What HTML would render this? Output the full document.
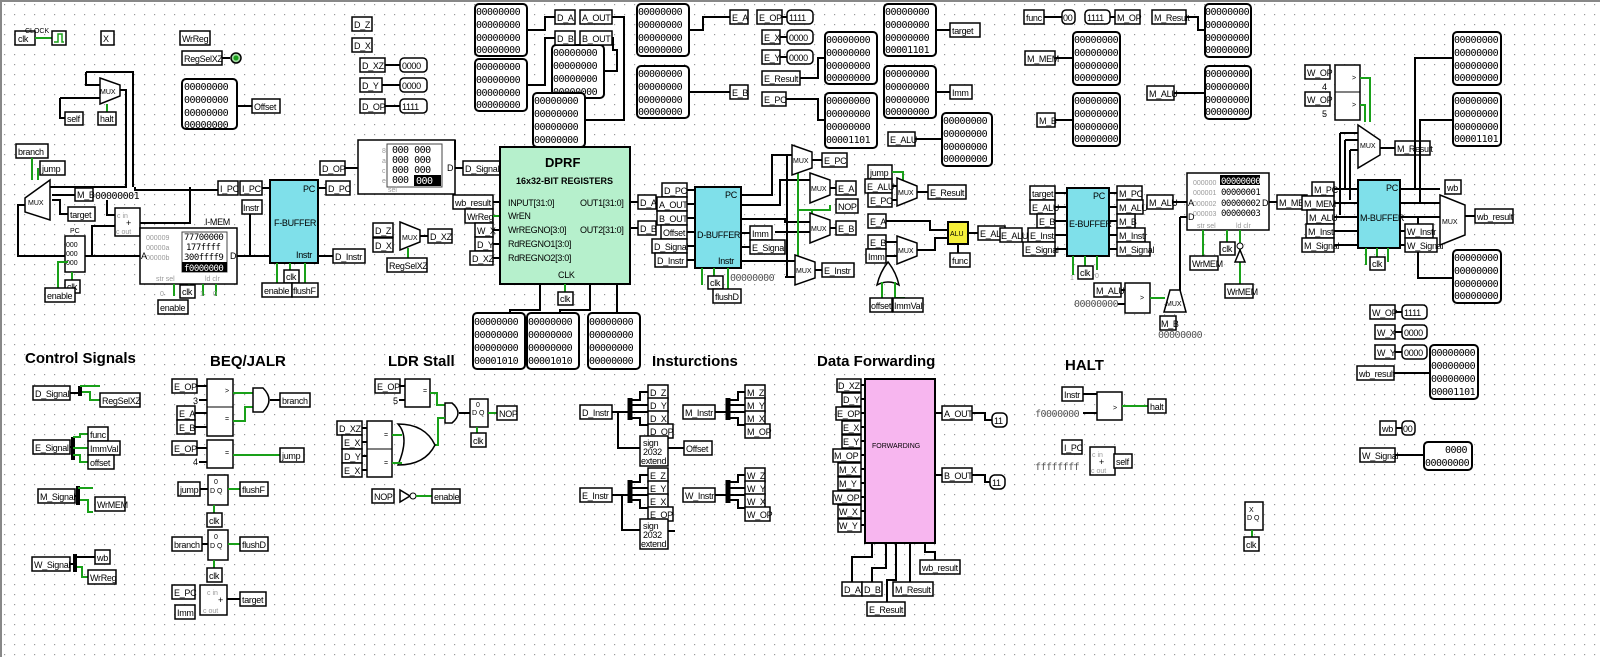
<!DOCTYPE html>
<html><head><meta charset="utf-8"><style>
html,body{margin:0;padding:0;background:#fff;}
svg{display:block;font-family:"Liberation Sans",sans-serif;}
.t{font-size:9px;letter-spacing:-0.3px;fill:#000;}
.s{font-size:7px;fill:#000;}
.g{font-size:7px;fill:#999;}
.h{font-size:15px;font-weight:bold;fill:#000;}
.p{font-size:10px;fill:#000;font-family:"DejaVu Sans Mono","Liberation Mono",monospace;letter-spacing:-0.5px;}
rect.l{fill:#fff;stroke:#000;stroke-width:1.5;}
rect.pr{fill:#fff;stroke:#000;stroke-width:2;}
.w{fill:none;stroke:#000;stroke-width:2;}
.gw{fill:none;stroke:#19a019;stroke-width:2;}
.box{fill:#fff;stroke:#000;stroke-width:1.5;}
.cy{fill:#7fe0ea;stroke:#000;stroke-width:2;}
</style></head><body>
<svg width="1600" height="657" viewBox="0 0 1600 657" xmlns="http://www.w3.org/2000/svg">
<defs><pattern id="dots" width="10" height="10" patternUnits="userSpaceOnUse"><rect x="4" y="4" width="1.2" height="1.2" fill="#9a9a9a"/></pattern></defs>
<rect width="1600" height="657" fill="#fff"/>
<rect width="1600" height="657" fill="url(#dots)"/>
<line x1="1" y1="0" x2="1" y2="657" stroke="#888" stroke-width="2"/>
<line x1="0" y1="1" x2="1600" y2="1" stroke="#888" stroke-width="2"/>

<!-- ===== top-left ===== -->
<rect class="l" x="15" y="31" width="20" height="14"/><text class="t" x="18" y="42">clk</text>
<text class="s" x="25" y="33">CLOCK</text>
<polyline class="gw" points="35,38 52,38"/>
<rect class="box" x="52" y="31" width="14" height="14"/><polyline fill="none" stroke="#19a019" stroke-width="1.5" points="54,42 58,42 58,34 62,34 62,42 64,42"/>
<rect class="l" x="101" y="31" width="13" height="14"/><text class="t" x="103" y="42">X</text>
<rect class="l" x="180" y="31" width="30" height="14"/><text class="t" x="182" y="42">WrReg</text>
<rect class="l" x="182" y="51" width="40" height="14"/><text class="t" x="184" y="62">RegSelXZ</text>
<polyline class="w" points="222,58 230,58"/><circle cx="236" cy="58" r="5" fill="#9fd89f" stroke="#000" stroke-width="1.5"/><circle cx="236" cy="58" r="2.5" fill="#19a019"/>
<rect class="pr" x="182" y="79" width="55" height="50" rx="4"/>
<text class="p" x="184" y="90">00000000</text><text class="p" x="184" y="103">00000000</text><text class="p" x="184" y="116">00000000</text><text class="p" x="184" y="128">00000000</text>
<polyline class="w" points="237,106 252,106"/><rect class="l" x="252" y="99" width="28" height="14"/><text class="t" x="254" y="110">Offset</text>

<rect class="l" x="352" y="17" width="20" height="14"/><text class="t" x="354" y="28">D_Z</text>
<rect class="l" x="352" y="38" width="20" height="14"/><text class="t" x="354" y="49">D_X</text>
<rect class="l" x="360" y="58" width="25" height="14"/><text class="t" x="362" y="69">D_XZ</text><polyline class="w" points="385,65 400,65"/><rect class="l" x="400" y="58" width="27" height="14" rx="4"/><text class="t" x="402" y="69">0000</text>
<rect class="l" x="360" y="78" width="22" height="14"/><text class="t" x="362" y="89">D_Y</text><polyline class="w" points="382,85 400,85"/><rect class="l" x="400" y="78" width="27" height="14" rx="4"/><text class="t" x="402" y="89">0000</text>
<rect class="l" x="360" y="99" width="25" height="14"/><text class="t" x="362" y="110">D_OP</text><polyline class="w" points="385,106 400,106"/><rect class="l" x="400" y="99" width="27" height="14" rx="4"/><text class="t" x="402" y="110">1111</text>

<!-- PC mux top -->
<polyline class="w" points="86,72 133,72 133,187"/>
<polyline class="w" points="86,72 86,85 100,85"/>
<polygon class="box" points="100,78 120,85 120,96 100,104"/><text class="s" x="100" y="94">MUX</text>
<polyline class="w" points="120,90 126,90 126,187 50,187"/>
<polyline class="w" points="60,98 100,98"/><polyline class="w" points="60,98 60,118 65,118"/>
<rect class="l" x="65" y="112" width="18" height="13"/><text class="t" x="67" y="122">self</text>
<polyline class="gw" points="107,104 107,112"/>
<rect class="l" x="98" y="112" width="18" height="13"/><text class="t" x="100" y="122">halt</text>

<rect class="l" x="16" y="144" width="32" height="14"/><text class="t" x="18" y="155">branch</text>
<rect class="l" x="40" y="161" width="25" height="14"/><text class="t" x="42" y="172">jump</text>
<polyline class="gw" points="32,158 32,180"/><polyline class="gw" points="38,168 38,180"/>
<polygon class="box" points="25,198 50,180 50,220 25,212"/><text class="s" x="28" y="205">MUX</text>
<polyline class="w" points="50,187 126,187"/>
<polyline class="w" points="52,195 75,195"/><rect class="l" x="75" y="188" width="18" height="13"/><text class="t" x="77" y="198">M_B</text>
<polyline class="w" points="52,200 60,200 60,214 68,214"/><rect class="l" x="68" y="207" width="27" height="14"/><text class="t" x="70" y="218">target</text>
<text class="p" x="95" y="199">00000001</text>
<polyline class="w" points="25,205 18,205 18,256 65,256"/>
<polyline class="w" points="135,187 135,190 235,190 235,187 238,187"/>
<polyline class="w" points="190,187 190,223 140,223"/>
<polyline class="w" points="107,200 107,215 115,215"/>
<polyline class="w" points="85,256 140,256"/><polyline class="w" points="92,256 92,226 115,226"/>
<rect class="box" x="115" y="208" width="25" height="28"/><text class="g" x="117" y="218">c in</text><text class="t" x="126" y="226">+</text><text class="g" x="116" y="234">c out</text>
<text class="s" x="70" y="233">PC</text>
<rect class="box" x="65" y="236" width="20" height="36"/><text class="s" x="66" y="247">000</text><text class="s" x="66" y="256">000</text><text class="s" x="66" y="265">000</text>
<polyline class="gw" points="72,272 72,281"/><rect class="l" x="65" y="280" width="15" height="13"/><text class="t" x="67" y="290">clk</text>
<polyline class="gw" points="68,262 58,262 58,288"/><rect class="l" x="45" y="288" width="30" height="14"/><text class="t" x="47" y="299">enable</text>

<text class="t" x="205" y="225">I-MEM</text>
<rect class="box" x="140" y="228" width="97" height="56"/>
<rect x="182" y="232" width="45" height="40" fill="#fff" stroke="#444"/>
<text class="g" x="146" y="240">000009</text><text class="p" x="184" y="240" style="font-size:9px">77700000</text>
<text class="g" x="146" y="250">00000a</text><text class="p" x="186" y="250" style="font-size:9px">177ffff</text>
<text class="g" x="146" y="260">00000b</text><text class="p" x="184" y="260" style="font-size:9px">300ffff9</text>
<rect x="182" y="262" width="45" height="10" fill="#000"/><text class="p" x="184" y="271" style="font-size:9px;fill:#fff">f0000000</text>
<text class="g" x="156" y="281">str sel</text><text class="g" x="205" y="281">ld clr</text>
<text class="t" x="141" y="259">A</text><text class="t" x="230" y="259">D</text>
<polyline class="gw" points="174,284 174,296"/><polyline class="gw" points="189,284 189,296"/><polyline class="gw" points="203,284 203,296"/><polyline class="gw" points="216,284 216,296"/>
<text class="g" x="160" y="296">0</text><text class="g" x="200" y="296">1</text><text class="g" x="213" y="296">0</text>
<rect class="l" x="180" y="285" width="15" height="13"/><text class="t" x="182" y="295">clk</text>
<rect class="l" x="158" y="300" width="30" height="14"/><text class="t" x="160" y="311">enable</text>
<polyline class="w" points="237,256 270,256"/>
<polyline class="w" points="250,256 250,214"/>
<rect class="l" x="218" y="181" width="20" height="14"/><text class="t" x="220" y="192">I_PC</text>
<rect class="l" x="240" y="181" width="22" height="14"/><text class="t" x="242" y="192">I_PC</text>
<polyline class="w" points="262,188 270,188"/>
<rect class="l" x="242" y="200" width="20" height="14"/><text class="t" x="243" y="211">Instr</text>
<rect class="cy" x="270" y="180" width="48" height="83"/>
<text class="t" x="303" y="192">PC</text><text class="t" x="274" y="226">F-BUFFER</text><text class="t" x="296" y="258">Instr</text>
<polyline class="w" points="318,188 326,188"/><rect class="l" x="326" y="181" width="24" height="14"/><text class="t" x="328" y="192">D_PC</text>
<polyline class="w" points="318,256 333,256"/><rect class="l" x="333" y="249" width="32" height="14"/><text class="t" x="335" y="260">D_Instr</text>
<polyline class="gw" points="277,263 277,283"/><polyline class="gw" points="290,263 290,270"/><polyline class="gw" points="305,263 305,283"/>
<rect class="l" x="284" y="270" width="15" height="13"/><text class="t" x="286" y="280">clk</text>
<rect class="l" x="262" y="283" width="30" height="14"/><text class="t" x="264" y="294">enable</text>
<rect class="l" x="292" y="283" width="26" height="14"/><text class="t" x="293" y="294">flushF</text>

<!-- decoder ROM -->
<rect class="l" x="320" y="161" width="25" height="14"/><text class="t" x="322" y="172">D_OP</text>
<polyline class="w" points="345,168 360,168"/><text class="t" x="361" y="171">A</text>
<rect class="box" x="358" y="140" width="97" height="54"/>
<rect x="387" y="144" width="55" height="43" fill="#fff" stroke="#444"/>
<text class="g" x="382" y="153">8</text><text class="p" x="392" y="153">000  000</text>
<text class="g" x="382" y="163">a</text><text class="p" x="392" y="163">000  000</text>
<text class="g" x="382" y="173">c</text><text class="p" x="392" y="173">000  000</text>
<text class="g" x="382" y="183">e</text><text class="p" x="392" y="183">000</text>
<rect x="414" y="175" width="27" height="11" fill="#000"/><text class="p" x="416" y="184" style="fill:#fff">000</text>
<text class="g" x="388" y="192">sel</text>
<text class="t" x="447" y="171">D</text><polyline class="w" points="455,168 463,168"/>
<rect class="l" x="463" y="161" width="37" height="14"/><text class="t" x="465" y="172">D_Signal</text>
<polyline class="w" points="455,140 455,160"/>

<rect class="l" x="453" y="195" width="40" height="14"/><text class="t" x="455" y="206">wb_result</text>
<rect class="l" x="465" y="209" width="28" height="14"/><text class="t" x="467" y="220">WrReg</text>
<rect class="l" x="475" y="223" width="18" height="14"/><text class="t" x="477" y="234">W_X</text>
<rect class="l" x="475" y="237" width="18" height="14"/><text class="t" x="477" y="248">D_Y</text>
<rect class="l" x="470" y="251" width="23" height="14"/><text class="t" x="472" y="262">D_XZ</text>
<polyline class="w" points="493,202 500,202"/><polyline class="gw" points="493,216 500,216"/><polyline class="w" points="493,230 500,230"/><polyline class="w" points="493,244 500,244"/><polyline class="w" points="493,258 500,258"/>

<rect class="l" x="373" y="223" width="20" height="14"/><text class="t" x="375" y="234">D_Z</text>
<rect class="l" x="373" y="238" width="20" height="14"/><text class="t" x="375" y="249">D_X</text>
<polygon class="box" points="400,222 420,230 420,242 400,250"/><text class="s" x="402" y="240">MUX</text>
<polyline class="w" points="420,236 428,236"/><rect class="l" x="428" y="229" width="24" height="14"/><text class="t" x="430" y="240">D_XZ</text>
<polyline class="gw" points="408,248 408,258"/><rect class="l" x="387" y="258" width="40" height="14"/><text class="t" x="389" y="269">RegSelXZ</text>

<!-- DPRF -->
<rect x="500" y="147" width="130" height="137" fill="#b6f0cc" stroke="#000" stroke-width="2"/>
<text x="545" y="167" style="font-size:13px;font-weight:bold">DPRF</text>
<text x="516" y="184" style="font-size:9px;font-weight:bold">16x32-BIT REGISTERS</text>
<text class="t" x="508" y="206">INPUT[31:0]</text><text class="t" x="508" y="219">WrEN</text><text class="t" x="508" y="233">WrREGNO[3:0]</text><text class="t" x="508" y="247">RdREGNO1[3:0]</text><text class="t" x="508" y="261">RdREGNO2[3:0]</text>
<text class="t" x="580" y="206">OUT1[31:0]</text><text class="t" x="580" y="233">OUT2[31:0]</text><text class="t" x="558" y="278">CLK</text>
<polyline class="gw" points="565,284 565,292"/><rect class="l" x="558" y="292" width="15" height="13"/><text class="t" x="560" y="302">clk</text>
<polyline class="w" points="630,202 638,202"/><rect class="l" x="638" y="195" width="18" height="14"/><text class="t" x="640" y="206">D_A</text>
<polyline class="w" points="630,228 638,228"/><rect class="l" x="638" y="221" width="18" height="14"/><text class="t" x="640" y="232">D_B</text>
<polyline class="w" points="540,284 540,310 510,310 510,314"/><polyline class="w" points="590,284 590,310 560,310 560,314"/><polyline class="w" points="617,284 617,314"/>
<rect class="pr" x="473" y="313" width="52" height="56" rx="4"/><text class="p" x="474" y="325">00000000</text><text class="p" x="474" y="338">00000000</text><text class="p" x="474" y="351">00000000</text><text class="p" x="474" y="364">00001010</text>
<rect class="pr" x="527" y="313" width="52" height="56" rx="4"/><text class="p" x="528" y="325">00000000</text><text class="p" x="528" y="338">00000000</text><text class="p" x="528" y="351">00000000</text><text class="p" x="528" y="364">00001010</text>
<rect class="pr" x="588" y="313" width="52" height="56" rx="4"/><text class="p" x="589" y="325">00000000</text><text class="p" x="589" y="338">00000000</text><text class="p" x="589" y="351">00000000</text><text class="p" x="589" y="364">00000000</text>

<!-- probes above DPRF -->
<rect class="pr" x="475" y="4" width="52" height="52" rx="4"/><text class="p" x="476" y="15">00000000</text><text class="p" x="476" y="28">00000000</text><text class="p" x="476" y="41">00000000</text><text class="p" x="476" y="53">00000000</text>
<rect class="pr" x="475" y="59" width="52" height="52" rx="4"/><text class="p" x="476" y="70">00000000</text><text class="p" x="476" y="83">00000000</text><text class="p" x="476" y="96">00000000</text><text class="p" x="476" y="108">00000000</text>
<rect class="pr" x="552" y="45" width="52" height="53" rx="4"/><text class="p" x="553" y="56">00000000</text><text class="p" x="553" y="69">00000000</text><text class="p" x="553" y="82">00000000</text><text class="p" x="553" y="95">00000000</text>
<rect class="pr" x="533" y="93" width="52" height="54" rx="4"/><text class="p" x="534" y="104">00000000</text><text class="p" x="534" y="117">00000000</text><text class="p" x="534" y="130">00000000</text><text class="p" x="534" y="143">00000000</text>
<polyline class="w" points="527,30 545,30 545,17 555,17"/><polyline class="w" points="527,85 545,85 545,38 555,38"/>
<rect class="l" x="555" y="10" width="20" height="14"/><text class="t" x="557" y="21">D_A</text>
<rect class="l" x="580" y="10" width="32" height="14"/><text class="t" x="582" y="21">A_OUT</text>
<rect class="l" x="555" y="31" width="20" height="14"/><text class="t" x="557" y="42">D_B</text>
<rect class="l" x="580" y="31" width="32" height="14"/><text class="t" x="582" y="42">B_OUT</text>
<polyline class="w" points="612,17 624,17 624,120 585,120"/><polyline class="w" points="612,38 613,38 613,50 617,50 617,71 604,71"/>

<!-- E probes -->
<rect class="pr" x="637" y="4" width="52" height="52" rx="4"/><text class="p" x="638" y="15">00000000</text><text class="p" x="638" y="28">00000000</text><text class="p" x="638" y="41">00000000</text><text class="p" x="638" y="53">00000000</text>
<rect class="pr" x="637" y="66" width="52" height="52" rx="4"/><text class="p" x="638" y="77">00000000</text><text class="p" x="638" y="90">00000000</text><text class="p" x="638" y="103">00000000</text><text class="p" x="638" y="115">00000000</text>
<polyline class="w" points="689,30 703,30 703,17 730,17"/><rect class="l" x="730" y="10" width="18" height="14"/><text class="t" x="732" y="21">E_A</text>
<polyline class="w" points="689,92 730,92"/><rect class="l" x="730" y="85" width="18" height="14"/><text class="t" x="732" y="96">E_B</text>
<rect class="l" x="757" y="10" width="25" height="14"/><text class="t" x="759" y="21">E_OP</text><polyline class="w" points="782,17 787,17"/><rect class="l" x="787" y="10" width="26" height="14" rx="4"/><text class="t" x="789" y="21">1111</text>
<rect class="l" x="762" y="30" width="18" height="14"/><text class="t" x="764" y="41">E_X</text><polyline class="w" points="780,37 787,37"/><rect class="l" x="787" y="30" width="26" height="14" rx="4"/><text class="t" x="789" y="41">0000</text>
<rect class="l" x="762" y="50" width="18" height="14"/><text class="t" x="764" y="61">E_Y</text><polyline class="w" points="780,57 787,57"/><rect class="l" x="787" y="50" width="26" height="14" rx="4"/><text class="t" x="789" y="61">0000</text>
<rect class="l" x="762" y="71" width="38" height="14"/><text class="t" x="764" y="82">E_Result</text><polyline class="w" points="800,78 818,78 818,58 825,58"/>
<rect class="l" x="762" y="92" width="24" height="14"/><text class="t" x="764" y="103">E_PC</text><polyline class="w" points="786,99 818,99 818,120 825,120"/>
<rect class="pr" x="825" y="32" width="52" height="52" rx="4"/><text class="p" x="826" y="43">00000000</text><text class="p" x="826" y="56">00000000</text><text class="p" x="826" y="69">00000000</text><text class="p" x="826" y="81">00000000</text>
<rect class="pr" x="825" y="93" width="52" height="55" rx="4"/><text class="p" x="826" y="104">00000000</text><text class="p" x="826" y="117">00000000</text><text class="p" x="826" y="130">00000000</text><text class="p" x="826" y="143">00001101</text>
<rect class="pr" x="884" y="4" width="52" height="52" rx="4"/><text class="p" x="885" y="15">00000000</text><text class="p" x="885" y="28">00000000</text><text class="p" x="885" y="41">00000000</text><text class="p" x="885" y="53">00001101</text>
<polyline class="w" points="936,30 950,30"/><rect class="l" x="950" y="23" width="30" height="14"/><text class="t" x="952" y="34">target</text>
<rect class="pr" x="884" y="66" width="52" height="52" rx="4"/><text class="p" x="885" y="77">00000000</text><text class="p" x="885" y="90">00000000</text><text class="p" x="885" y="103">00000000</text><text class="p" x="885" y="115">00000000</text>
<polyline class="w" points="936,92 950,92"/><rect class="l" x="950" y="85" width="22" height="14"/><text class="t" x="952" y="96">Imm</text>
<rect class="pr" x="942" y="113" width="50" height="53" rx="4"/><text class="p" x="943" y="124">00000000</text><text class="p" x="943" y="137">00000000</text><text class="p" x="943" y="150">00000000</text><text class="p" x="943" y="162">00000000</text>
<rect class="l" x="888" y="132" width="27" height="14"/><text class="t" x="890" y="143">E_ALU</text><polyline class="w" points="915,139 942,139"/>

<!-- D-BUFFER -->
<rect class="l" x="662" y="183" width="25" height="14"/><text class="t" x="664" y="194">D_PC</text>
<rect class="l" x="657" y="197" width="30" height="14"/><text class="t" x="659" y="208">A_OUT</text>
<rect class="l" x="657" y="211" width="30" height="14"/><text class="t" x="659" y="222">B_OUT</text>
<rect class="l" x="661" y="225" width="26" height="14"/><text class="t" x="663" y="236">Offset</text>
<rect class="l" x="652" y="239" width="35" height="14"/><text class="t" x="654" y="250">D_Signal</text>
<rect class="l" x="655" y="253" width="32" height="14"/><text class="t" x="657" y="264">D_Instr</text>
<polyline class="w" points="687,190 695,190"/><polyline class="w" points="687,204 695,204"/><polyline class="w" points="687,218 695,218"/><polyline class="w" points="687,232 695,232"/><polyline class="w" points="687,246 695,246"/><polyline class="w" points="687,260 695,260"/>
<rect class="cy" x="695" y="187" width="46" height="81"/>
<text class="t" x="725" y="198">PC</text><text class="t" x="697" y="238">D-BUFFER</text><text class="t" x="718" y="264">Instr</text>
<polyline class="gw" points="702,268 702,285"/><polyline class="gw" points="714,268 714,276"/><polyline class="gw" points="728,268 728,289"/>
<rect class="l" x="708" y="276" width="15" height="13"/><text class="t" x="710" y="286">clk</text>
<rect class="l" x="713" y="289" width="28" height="14"/><text class="t" x="715" y="300">flushD</text>
<polyline class="w" points="741,233 750,233"/><rect class="l" x="750" y="226" width="22" height="14"/><text class="t" x="752" y="237">Imm</text>
<polyline class="w" points="741,247 750,247"/><rect class="l" x="750" y="240" width="35" height="14"/><text class="t" x="752" y="251">E_Signal</text>
<polyline class="w" points="741,195 772,195 772,155 792,155"/>
<polyline class="w" points="741,205 780,205 780,180 810,180"/>
<polyline class="w" points="741,219 785,219 785,222 810,222"/>
<polyline class="w" points="741,261 795,261"/>
<polyline class="w" points="785,277 800,277 800,275"/>
<text class="p" x="730" y="281" style="fill:#555">00000000</text>
<polyline class="w" points="787,155 787,277"/><polyline class="w" points="775,232 810,232"/>
<polyline class="gw" points="798,170 798,260"/><polyline class="gw" points="812,210 830,210 830,205"/><polyline class="gw" points="798,210 812,210 812,230"/>
<polygon class="box" points="792,145 812,152 812,168 792,175"/><text class="s" x="793" y="163">MUX</text>
<polygon class="box" points="810,173 830,180 830,195 810,203"/><text class="s" x="811" y="191">MUX</text>
<polygon class="box" points="810,213 830,220 830,235 810,243"/><text class="s" x="811" y="231">MUX</text>
<polygon class="box" points="795,255 815,262 815,278 795,285"/><text class="s" x="796" y="273">MUX</text>
<polyline class="w" points="812,160 822,160"/><rect class="l" x="822" y="153" width="25" height="14"/><text class="t" x="824" y="164">E_PC</text>
<polyline class="w" points="830,188 836,188"/><rect class="l" x="836" y="181" width="20" height="14"/><text class="t" x="838" y="192">E_A</text>
<rect class="l" x="836" y="199" width="22" height="14"/><text class="t" x="838" y="210">NOP</text>
<polyline class="w" points="830,228 836,228"/><rect class="l" x="836" y="221" width="20" height="14"/><text class="t" x="838" y="232">E_B</text>
<polyline class="w" points="815,270 822,270"/><rect class="l" x="822" y="263" width="32" height="14"/><text class="t" x="824" y="274">E_Instr</text>

<!-- ALU area -->
<rect class="l" x="868" y="165" width="24" height="14"/><text class="t" x="870" y="176">jump</text>
<rect class="l" x="865" y="179" width="27" height="14"/><text class="t" x="867" y="190">E_ALU</text>
<rect class="l" x="868" y="193" width="24" height="14"/><text class="t" x="870" y="204">E_PC</text>
<polyline class="gw" points="892,172 903,172 903,180"/>
<polyline class="w" points="892,186 897,186"/><polyline class="w" points="892,200 897,200"/>
<polygon class="box" points="897,178 917,186 917,198 897,206"/><text class="s" x="898" y="195">MUX</text>
<polyline class="w" points="917,192 928,192"/><rect class="l" x="928" y="185" width="38" height="14"/><text class="t" x="930" y="196">E_Result</text>
<rect class="l" x="868" y="214" width="18" height="14"/><text class="t" x="870" y="225">E_A</text>
<polyline class="w" points="886,221 930,221 930,230 948,230"/>
<rect class="l" x="868" y="235" width="18" height="14"/><text class="t" x="870" y="246">E_B</text>
<rect class="l" x="866" y="249" width="20" height="14"/><text class="t" x="868" y="260">Imm</text>
<polyline class="w" points="886,242 897,242"/><polyline class="w" points="886,256 897,256"/>
<polygon class="box" points="897,236 917,243 917,256 897,264"/><text class="s" x="898" y="253">MUX</text>
<polyline class="w" points="917,250 935,250 935,238 948,238"/>
<path class="box" d="M 877,285 Q 880,272 888,262 Q 896,272 899,285 Q 888,279 877,285 Z"/>
<polyline class="gw" points="882,282 882,298"/><polyline class="gw" points="895,282 895,298 905,298"/>
<rect class="l" x="870" y="298" width="22" height="14"/><text class="t" x="871" y="309">offset</text>
<rect class="l" x="893" y="298" width="30" height="14"/><text class="t" x="894" y="309">ImmVal</text>
<rect x="948" y="222" width="20" height="22" fill="#f5ef3a" stroke="#000" stroke-width="2"/><text class="s" x="950" y="236">ALU</text>
<polyline class="w" points="968,233 978,233"/><rect class="l" x="978" y="226" width="27" height="14"/><text class="t" x="980" y="237">E_ALU</text>
<polyline class="w" points="958,244 958,253"/><rect class="l" x="950" y="253" width="20" height="14"/><text class="t" x="952" y="264">func</text>

<!-- top right of middle -->
<rect class="l" x="1024" y="10" width="20" height="14"/><text class="t" x="1026" y="21">func</text><polyline class="w" points="1044,17 1062,17"/><rect class="l" x="1062" y="10" width="13" height="14" rx="4"/><text class="t" x="1063" y="21">00</text>
<rect class="l" x="1085" y="10" width="25" height="14" rx="4"/><text class="t" x="1087" y="21">1111</text><polyline class="w" points="1110,17 1115,17"/><rect class="l" x="1115" y="10" width="25" height="14"/><text class="t" x="1117" y="21">M_OP</text>
<rect class="l" x="1152" y="10" width="34" height="14"/><text class="t" x="1154" y="21">M_Result</text><polyline class="w" points="1186,17 1198,17 1198,30 1205,30"/>
<rect class="pr" x="1205" y="4" width="46" height="53" rx="4"/><text class="p" x="1205" y="15">00000000</text><text class="p" x="1205" y="28">00000000</text><text class="p" x="1205" y="41">00000000</text><text class="p" x="1205" y="53">00000000</text>
<rect class="l" x="1025" y="51" width="30" height="14"/><text class="t" x="1027" y="62">M_MEM</text><polyline class="w" points="1055,58 1073,58"/>
<rect class="pr" x="1073" y="32" width="47" height="53" rx="4"/><text class="p" x="1074" y="43">00000000</text><text class="p" x="1074" y="56">00000000</text><text class="p" x="1074" y="69">00000000</text><text class="p" x="1074" y="81">00000000</text>
<rect class="l" x="1037" y="113" width="18" height="14"/><text class="t" x="1039" y="124">M_B</text><polyline class="w" points="1055,120 1073,120"/>
<rect class="pr" x="1073" y="93" width="47" height="53" rx="4"/><text class="p" x="1074" y="104">00000000</text><text class="p" x="1074" y="117">00000000</text><text class="p" x="1074" y="130">00000000</text><text class="p" x="1074" y="142">00000000</text>
<rect class="l" x="1147" y="86" width="27" height="14"/><text class="t" x="1149" y="97">M_ALU</text><polyline class="w" points="1174,93 1205,93"/>
<rect class="pr" x="1205" y="66" width="46" height="53" rx="4"/><text class="p" x="1205" y="77">00000000</text><text class="p" x="1205" y="90">00000000</text><text class="p" x="1205" y="103">00000000</text><text class="p" x="1205" y="115">00000000</text>

<!-- E-BUFFER -->
<rect class="l" x="1030" y="186" width="25" height="14"/><text class="t" x="1032" y="197">target</text>
<rect class="l" x="1030" y="200" width="25" height="14"/><text class="t" x="1032" y="211">E_ALU</text>
<rect class="l" x="1037" y="214" width="18" height="14"/><text class="t" x="1039" y="225">E_B</text>
<rect class="l" x="1028" y="228" width="27" height="14"/><text class="t" x="1030" y="239">E_Instr</text>
<rect class="l" x="1023" y="242" width="32" height="14"/><text class="t" x="1025" y="253">E_Signal</text>
<rect class="l" x="1000" y="228" width="22" height="14"/><text class="t" x="1001" y="239">E_ALU</text>
<polyline class="w" points="1055,193 1067,193"/><polyline class="w" points="1055,207 1067,207"/><polyline class="w" points="1055,221 1067,221"/><polyline class="w" points="1055,235 1067,235"/><polyline class="w" points="1055,249 1067,249"/>
<rect class="cy" x="1067" y="188" width="42" height="68"/>
<text class="t" x="1093" y="199">PC</text><text class="t" x="1069" y="227">E-BUFFER</text>
<polyline class="gw" points="1073,256 1073,275"/><polyline class="gw" points="1085,256 1085,266"/><polyline class="gw" points="1097,256 1097,270"/>
<rect class="l" x="1078" y="266" width="15" height="13"/><text class="t" x="1080" y="276">clk</text>
<text class="g" x="1070" y="280">1</text><text class="g" x="1095" y="278">0</text>
<polyline class="w" points="1109,193 1117,193"/><polyline class="w" points="1109,207 1117,207"/><polyline class="w" points="1109,221 1117,221"/><polyline class="w" points="1109,235 1117,235"/><polyline class="w" points="1109,249 1117,249"/>
<rect class="l" x="1117" y="186" width="25" height="14"/><text class="t" x="1119" y="197">M_PC</text>
<rect class="l" x="1117" y="200" width="26" height="14"/><text class="t" x="1119" y="211">M_ALU</text>
<rect class="l" x="1117" y="214" width="18" height="14"/><text class="t" x="1119" y="225">M_B</text>
<rect class="l" x="1117" y="228" width="28" height="14"/><text class="t" x="1119" y="239">M_Instr</text>
<rect class="l" x="1117" y="242" width="33" height="14"/><text class="t" x="1119" y="253">M_Signal</text>

<!-- RAM -->
<rect class="l" x="1147" y="195" width="26" height="14"/><text class="t" x="1149" y="206">M_ALU</text>
<polyline class="w" points="1173,202 1187,202"/>
<rect class="box" x="1187" y="173" width="82" height="57"/>
<text class="g" x="1193" y="185">000000</text><text class="g" x="1193" y="195">000001</text><text class="g" x="1193" y="206">000002</text><text class="g" x="1193" y="216">000003</text>
<rect x="1220" y="175" width="40" height="10" fill="#000"/><text class="p" x="1221" y="184" style="font-size:9px;fill:#fff">00000000</text>
<text class="p" x="1221" y="195" style="font-size:9px">00000001</text><text class="p" x="1221" y="206" style="font-size:9px">00000002</text><text class="p" x="1221" y="216" style="font-size:9px">00000003</text>
<text class="t" x="1188" y="206">A</text><text class="t" x="1188" y="220">D</text><text class="t" x="1262" y="206">D</text>
<text class="g" x="1197" y="228">str sel</text><text class="g" x="1236" y="228">ld clr</text>
<polyline class="w" points="1269,202 1277,202"/><rect class="l" x="1277" y="195" width="30" height="14"/><text class="t" x="1279" y="206">M_MEM</text>
<polyline class="gw" points="1203,230 1203,256"/><rect class="l" x="1190" y="256" width="28" height="14"/><text class="t" x="1192" y="267">WrMEM</text>
<polyline class="gw" points="1227,230 1227,242"/><rect class="l" x="1220" y="242" width="15" height="13"/><text class="t" x="1222" y="252">clk</text>
<polyline class="gw" points="1240,230 1240,285"/><polygon class="box" points="1240,250 1235,262 1245,262"/><circle cx="1240" cy="246" r="3" fill="#fff" stroke="#000"/>
<rect class="l" x="1225" y="284" width="28" height="14"/><text class="t" x="1227" y="295">WrMEM</text>
<polyline class="w" points="1180,217 1187,217"/><polyline class="w" points="1180,217 1180,300"/>
<rect class="l" x="1094" y="283" width="27" height="14"/><text class="t" x="1096" y="294">M_ALU</text>
<text class="p" x="1074" y="307" style="fill:#555">00000000</text>
<rect class="box" x="1125" y="283" width="25" height="30"/><text class="s" x="1140" y="300">&gt;</text>
<polyline class="w" points="1121,290 1125,290"/><polyline class="w" points="1118,304 1125,304"/>
<polyline class="gw" points="1150,298 1165,298"/>
<polygon class="box" points="1170,290 1180,290 1186,312 1164,312"/><text class="s" x="1166" y="306">MUX</text>
<rect class="l" x="1160" y="316" width="16" height="14"/><text class="t" x="1161" y="327">M_B</text>
<text class="p" x="1158" y="338" style="fill:#555">00000000</text>

<!-- M stage -->
<rect class="l" x="1305" y="65" width="25" height="14"/><text class="t" x="1307" y="76">W_OP</text>
<rect class="l" x="1305" y="92" width="25" height="14"/><text class="t" x="1307" y="103">W_OP</text>
<text class="t" x="1322" y="90">4</text><text class="t" x="1322" y="117">5</text>
<rect class="box" x="1335" y="65" width="25" height="55"/><line x1="1335" y1="92" x2="1360" y2="92" stroke="#000"/>
<text class="s" x="1352" y="80">&gt;</text><text class="s" x="1352" y="107">&gt;</text>
<polyline class="gw" points="1360,78 1370,78 1370,122"/><polyline class="gw" points="1360,105 1365,105 1365,122"/>
<polygon class="box" points="1358,125 1380,140 1380,155 1358,168"/><text class="s" x="1360" y="148">MUX</text>
<polyline class="w" points="1380,148 1395,148"/><rect class="l" x="1395" y="141" width="35" height="14"/><text class="t" x="1397" y="152">M_Result</text>
<polyline class="w" points="1340,133 1358,133 "/><polyline class="w" points="1340,133 1340,215"/><polyline class="w" points="1345,140 1358,140"/><polyline class="w" points="1345,140 1345,190"/><polyline class="w" points="1350,150 1358,150"/><polyline class="w" points="1350,150 1350,200"/>
<rect class="l" x="1312" y="182" width="22" height="14"/><text class="t" x="1314" y="193">M_PC</text>
<rect class="l" x="1302" y="196" width="32" height="14"/><text class="t" x="1304" y="207">M_MEM</text>
<rect class="l" x="1307" y="210" width="27" height="14"/><text class="t" x="1309" y="221">M_ALU</text>
<rect class="l" x="1306" y="224" width="28" height="14"/><text class="t" x="1308" y="235">M_Instr</text>
<rect class="l" x="1302" y="238" width="32" height="14"/><text class="t" x="1304" y="249">M_Signal</text>
<polyline class="w" points="1334,189 1358,189"/><polyline class="w" points="1334,203 1358,203"/><polyline class="w" points="1334,217 1358,217"/><polyline class="w" points="1334,231 1358,231"/><polyline class="w" points="1334,245 1358,245"/>
<rect class="cy" x="1358" y="180" width="42" height="68"/>
<text class="t" x="1386" y="191">PC</text><text class="t" x="1360" y="221">M-BUFFER</text>
<polyline class="gw" points="1366,248 1366,265"/><polyline class="gw" points="1377,248 1377,258"/><polyline class="gw" points="1388,248 1388,262"/>
<rect class="l" x="1370" y="257" width="15" height="13"/><text class="t" x="1372" y="267">clk</text>
<polyline class="w" points="1400,189 1440,189"/><polyline class="w" points="1400,203 1440,203"/><polyline class="w" points="1400,217 1440,217"/>
<polyline class="w" points="1415,189 1415,58 1453,58"/><polyline class="w" points="1420,203 1420,120 1453,120"/><polyline class="w" points="1418,217 1418,278 1453,278"/>
<polyline class="w" points="1400,231 1405,231"/><rect class="l" x="1405" y="224" width="28" height="14"/><text class="t" x="1407" y="235">W_Instr</text>
<polyline class="w" points="1400,245 1405,245"/><rect class="l" x="1405" y="238" width="32" height="14"/><text class="t" x="1407" y="249">W_Signal</text>
<polygon class="box" points="1440,195 1465,205 1465,235 1440,245"/><text class="s" x="1442" y="224">MUX</text>
<rect class="l" x="1445" y="180" width="16" height="14"/><text class="t" x="1447" y="191">wb</text>
<polyline class="w" points="1465,216 1475,216"/><rect class="l" x="1475" y="209" width="38" height="14"/><text class="t" x="1477" y="220">wb_result</text>
<rect class="pr" x="1453" y="32" width="48" height="53" rx="4"/><text class="p" x="1454" y="43">00000000</text><text class="p" x="1454" y="56">00000000</text><text class="p" x="1454" y="69">00000000</text><text class="p" x="1454" y="81">00000000</text>
<rect class="pr" x="1453" y="93" width="48" height="53" rx="4"/><text class="p" x="1454" y="104">00000000</text><text class="p" x="1454" y="117">00000000</text><text class="p" x="1454" y="130">00000000</text><text class="p" x="1454" y="142">00001101</text>
<rect class="pr" x="1453" y="250" width="48" height="53" rx="4"/><text class="p" x="1454" y="261">00000000</text><text class="p" x="1454" y="274">00000000</text><text class="p" x="1454" y="287">00000000</text><text class="p" x="1454" y="299">00000000</text>

<rect class="l" x="1370" y="305" width="25" height="14"/><text class="t" x="1372" y="316">W_OP</text><polyline class="w" points="1395,312 1402,312"/><rect class="l" x="1402" y="305" width="25" height="14" rx="4"/><text class="t" x="1404" y="316">1111</text>
<rect class="l" x="1375" y="325" width="20" height="14"/><text class="t" x="1377" y="336">W_X</text><polyline class="w" points="1395,332 1402,332"/><rect class="l" x="1402" y="325" width="25" height="14" rx="4"/><text class="t" x="1404" y="336">0000</text>
<rect class="l" x="1375" y="345" width="20" height="14"/><text class="t" x="1377" y="356">W_Y</text><polyline class="w" points="1395,352 1402,352"/><rect class="l" x="1402" y="345" width="25" height="14" rx="4"/><text class="t" x="1404" y="356">0000</text>
<rect class="l" x="1357" y="366" width="37" height="14"/><text class="t" x="1359" y="377">wb_result</text><polyline class="w" points="1394,373 1430,373"/>
<rect class="pr" x="1430" y="345" width="48" height="54" rx="4"/><text class="p" x="1431" y="356">00000000</text><text class="p" x="1431" y="369">00000000</text><text class="p" x="1431" y="382">00000000</text><text class="p" x="1431" y="395">00001101</text>
<rect class="l" x="1380" y="421" width="16" height="14"/><text class="t" x="1382" y="432">wb</text><polyline class="w" points="1396,428 1402,428"/><rect class="l" x="1402" y="421" width="13" height="14" rx="4"/><text class="t" x="1403" y="432">00</text>
<rect class="l" x="1360" y="448" width="35" height="14"/><text class="t" x="1362" y="459">W_Signal</text><polyline class="w" points="1395,455 1424,455"/>
<rect class="pr" x="1424" y="442" width="48" height="28" rx="4"/><text class="p" x="1445" y="453">0000</text><text class="p" x="1425" y="466">00000000</text>

<!-- HALT -->
<text class="h" x="1065" y="370">HALT</text>
<rect class="l" x="1062" y="387" width="21" height="14"/><text class="t" x="1064" y="398">Instr</text>
<text class="p" x="1035" y="417" style="fill:#555">f0000000</text>
<rect class="box" x="1097" y="392" width="25" height="28"/><text class="s" x="1113" y="410">&gt;</text>
<polyline class="w" points="1083,394 1097,394"/><polyline class="w" points="1083,413 1097,413"/>
<polyline class="gw" points="1122,406 1148,406"/><rect class="l" x="1148" y="399" width="18" height="14"/><text class="t" x="1150" y="410">halt</text>
<rect class="l" x="1062" y="440" width="20" height="14"/><text class="t" x="1064" y="451">I_PC</text>
<text class="p" x="1035" y="470" style="fill:#555">ffffffff</text>
<rect class="box" x="1090" y="447" width="25" height="28"/><text class="g" x="1092" y="457">c in</text><text class="t" x="1099" y="465">+</text><text class="g" x="1091" y="473">c out</text>
<rect class="l" x="1114" y="454" width="18" height="14"/><text class="t" x="1116" y="465">self</text>
<rect class="box" x="1245" y="502" width="18" height="28"/><text class="s" x="1249" y="512">X</text><text class="s" x="1247" y="520">D Q</text>
<polyline class="gw" points="1252,530 1252,537"/><rect class="l" x="1244" y="537" width="15" height="14"/><text class="t" x="1246" y="548">clk</text>

<!-- ===== bottom sections ===== -->
<text class="h" x="25" y="363">Control Signals</text>
<text class="h" x="210" y="366">BEQ/JALR</text>
<text class="h" x="388" y="366">LDR Stall</text>
<text class="h" x="652" y="366">Insturctions</text>
<text class="h" x="817" y="366">Data Forwarding</text>

<rect class="l" x="33" y="386" width="37" height="14"/><text class="t" x="35" y="397">D_Signal</text>
<polyline class="w" points="70,393 80,393"/><polyline class="w" points="80,386 80,396" style="stroke-width:4"/><polyline class="gw" points="80,386 100,386"/><polyline class="gw" points="82,392 90,392 90,400 100,400"/>
<rect class="l" x="100" y="393" width="40" height="14"/><text class="t" x="102" y="404">RegSelXZ</text>
<rect class="l" x="33" y="440" width="37" height="14"/><text class="t" x="35" y="451">E_Signal</text>
<polyline class="w" points="70,447 73,447"/><polyline class="w" points="73,437 73,460" style="stroke-width:4"/>
<polyline class="gw" points="73,437 80,437 80,434 88,434"/><polyline class="gw" points="73,448 88,448"/><polyline class="gw" points="73,455 80,455 80,462 88,462"/>
<rect class="l" x="88" y="427" width="20" height="14"/><text class="t" x="90" y="438">func</text>
<rect class="l" x="88" y="441" width="32" height="14"/><text class="t" x="90" y="452">ImmVal</text>
<rect class="l" x="88" y="455" width="26" height="14"/><text class="t" x="90" y="466">offset</text>
<rect class="l" x="38" y="489" width="37" height="14"/><text class="t" x="40" y="500">M_Signal</text>
<polyline class="w" points="75,496 78,496"/><polyline class="w" points="78,486 78,505" style="stroke-width:4"/><polyline class="gw" points="78,488 93,488"/><polyline class="gw" points="80,500 88,500 88,512 93,512"/>
<rect class="l" x="95" y="497" width="30" height="14"/><text class="t" x="97" y="508">WrMEM</text>
<rect class="l" x="32" y="557" width="38" height="14"/><text class="t" x="34" y="568">W_Signal</text>
<polyline class="w" points="70,564 75,564"/><polyline class="w" points="75,554 75,572" style="stroke-width:4"/><polyline class="w" points="75,557 95,557"/><polyline class="gw" points="77,567 82,567 82,577 88,577"/>
<rect class="l" x="95" y="550" width="15" height="14"/><text class="t" x="97" y="561">wb</text>
<rect class="l" x="88" y="570" width="28" height="14"/><text class="t" x="90" y="581">WrReg</text>

<!-- BEQ -->
<rect class="l" x="172" y="379" width="25" height="14"/><text class="t" x="174" y="390">E_OP</text>
<text class="t" x="193" y="404">3</text>
<rect class="l" x="177" y="406" width="18" height="14"/><text class="t" x="179" y="417">E_A</text>
<rect class="l" x="177" y="420" width="18" height="14"/><text class="t" x="179" y="431">E_B</text>
<rect class="box" x="207" y="379" width="26" height="57"/><line x1="207" y1="407" x2="233" y2="407" stroke="#000"/>
<text class="s" x="225" y="393">&gt;</text><text class="s" x="225" y="421">=</text>
<polyline class="w" points="197,386 207,386"/><polyline class="w" points="199,400 207,400"/><polyline class="w" points="195,413 207,413"/><polyline class="w" points="195,427 207,427"/>
<polyline class="gw" points="233,393 253,393"/><polyline class="gw" points="233,421 245,421 245,407 253,407"/>
<path class="box" d="M 253,388 L 263,388 Q 275,400 263,412 L 253,412 Z"/>
<polyline class="w" points="270,400 280,400"/><rect class="l" x="280" y="393" width="30" height="14"/><text class="t" x="282" y="404">branch</text>
<rect class="l" x="172" y="441" width="25" height="14"/><text class="t" x="174" y="452">E_OP</text><text class="t" x="193" y="465">4</text>
<rect class="box" x="207" y="440" width="26" height="28"/><text class="s" x="225" y="455">=</text>
<polyline class="w" points="197,448 207,448"/><polyline class="w" points="199,462 207,462"/>
<polyline class="gw" points="233,455 280,455"/><rect class="l" x="280" y="448" width="24" height="14"/><text class="t" x="282" y="459">jump</text>
<rect class="l" x="178" y="482" width="22" height="14"/><text class="t" x="180" y="493">jump</text>
<rect class="box" x="208" y="475" width="20" height="30"/><text class="s" x="214" y="484">0</text><text class="s" x="210" y="493">D Q</text>
<polyline class="w" points="200,489 208,489"/><polyline class="gw" points="228,489 240,489"/>
<rect class="l" x="240" y="482" width="28" height="14"/><text class="t" x="242" y="493">flushF</text>
<polyline class="gw" points="214,505 214,514"/><rect class="l" x="207" y="513" width="15" height="14"/><text class="t" x="209" y="524">clk</text>
<rect class="l" x="172" y="537" width="30" height="14"/><text class="t" x="174" y="548">branch</text>
<rect class="box" x="208" y="530" width="20" height="30"/><text class="s" x="214" y="539">0</text><text class="s" x="210" y="548">D Q</text>
<polyline class="w" points="202,544 208,544"/><polyline class="gw" points="228,544 240,544"/>
<rect class="l" x="240" y="537" width="28" height="14"/><text class="t" x="242" y="548">flushD</text>
<polyline class="gw" points="214,560 214,569"/><rect class="l" x="207" y="568" width="15" height="14"/><text class="t" x="209" y="579">clk</text>
<rect class="l" x="172" y="585" width="23" height="14"/><text class="t" x="174" y="596">E_PC</text>
<rect class="l" x="175" y="605" width="20" height="14"/><text class="t" x="177" y="616">Imm</text>
<rect class="box" x="200" y="585" width="27" height="30"/><text class="g" x="207" y="595">c in</text><text class="t" x="218" y="603">+</text><text class="g" x="203" y="613">c out</text>
<polyline class="w" points="227,599 240,599"/><rect class="l" x="240" y="592" width="26" height="14"/><text class="t" x="242" y="603">target</text>

<!-- LDR stall -->
<rect class="l" x="375" y="379" width="25" height="14"/><text class="t" x="377" y="390">E_OP</text><text class="t" x="393" y="404">5</text>
<rect class="box" x="405" y="379" width="25" height="28"/><text class="s" x="423" y="393">=</text>
<polyline class="w" points="400,386 405,386"/><polyline class="w" points="399,400 405,400"/>
<polyline class="gw" points="430,393 437,393 437,405 445,405"/>
<path class="box" d="M 445,403 L 452,403 Q 464,413 452,423 L 445,423 Z"/>
<polyline class="gw" points="435,445 438,445 438,418 445,418"/>
<rect class="box" x="470" y="399" width="18" height="28"/><text class="s" x="476" y="407">0</text><text class="s" x="472" y="415">D Q</text>
<polyline class="w" points="459,413 470,413"/><polyline class="gw" points="488,413 497,413"/>
<rect class="l" x="497" y="406" width="20" height="14"/><text class="t" x="499" y="417">NOP</text>
<polyline class="gw" points="477,427 477,433"/><rect class="l" x="471" y="433" width="15" height="14"/><text class="t" x="473" y="444">clk</text>
<rect class="l" x="337" y="421" width="25" height="14"/><text class="t" x="339" y="432">D_XZ</text>
<rect class="l" x="342" y="435" width="20" height="14"/><text class="t" x="344" y="446">E_X</text>
<rect class="l" x="342" y="449" width="20" height="14"/><text class="t" x="344" y="460">D_Y</text>
<rect class="l" x="342" y="463" width="20" height="14"/><text class="t" x="344" y="474">E_X</text>
<rect class="box" x="367" y="421" width="25" height="56"/><line x1="367" y1="449" x2="392" y2="449" stroke="#000"/>
<text class="s" x="384" y="437">=</text><text class="s" x="384" y="465">=</text>
<polyline class="w" points="362,428 367,428"/><polyline class="w" points="362,442 367,442"/><polyline class="w" points="362,456 367,456"/><polyline class="w" points="362,470 367,470"/>
<path class="box" d="M 398,424 Q 410,437 398,465 Q 425,465 435,445 Q 425,424 398,424 Z"/>
<polyline class="gw" points="392,435 402,435"/><polyline class="gw" points="392,463 402,463"/>
<rect class="l" x="372" y="489" width="22" height="14"/><text class="t" x="374" y="500">NOP</text>
<polygon class="box" points="400,490 400,502 410,496"/><circle cx="413" cy="496" r="3" fill="#fff" stroke="#000"/>
<polyline class="gw" points="416,496 432,496"/><rect class="l" x="432" y="489" width="28" height="14"/><text class="t" x="434" y="500">enable</text>

<!-- instructions -->
<rect class="l" x="580" y="405" width="32" height="14"/><text class="t" x="582" y="416">D_Instr</text>
<polyline class="w" points="612,412 630,412"/><polyline class="w" points="618,412 618,448 640,448"/>
<polyline class="w" points="630,398 630,420" style="stroke-width:5"/>
<polyline class="w" points="630,400 640,400 640,392 648,392"/><polyline class="w" points="630,405 648,405"/><polyline class="w" points="630,412 648,412"/><polyline class="w" points="630,418 640,418 640,425 648,425"/>
<rect class="l" x="648" y="385" width="20" height="14"/><text class="t" x="650" y="396">D_Z</text>
<rect class="l" x="648" y="398" width="20" height="14"/><text class="t" x="650" y="409">D_Y</text>
<rect class="l" x="648" y="411" width="20" height="14"/><text class="t" x="650" y="422">D_X</text>
<rect class="l" x="648" y="424" width="25" height="14"/><text class="t" x="650" y="435">D_OP</text>
<rect class="box" x="640" y="436" width="28" height="30"/><text class="t" x="643" y="446">sign</text><text class="t" x="643" y="455">2032</text><text class="t" x="641" y="464">extend</text>
<polyline class="w" points="668,448 684,448"/><rect class="l" x="684" y="441" width="28" height="14"/><text class="t" x="686" y="452">Offset</text>
<rect class="l" x="580" y="488" width="32" height="14"/><text class="t" x="582" y="499">E_Instr</text>
<polyline class="w" points="612,495 630,495"/><polyline class="w" points="622,495 622,530 640,530"/>
<polyline class="w" points="630,480 630,503" style="stroke-width:5"/>
<polyline class="w" points="630,482 640,482 640,475 648,475"/><polyline class="w" points="630,488 648,488"/><polyline class="w" points="630,495 648,495"/><polyline class="w" points="630,500 640,500 640,508 648,508"/>
<rect class="l" x="648" y="468" width="20" height="14"/><text class="t" x="650" y="479">E_Z</text>
<rect class="l" x="648" y="481" width="20" height="14"/><text class="t" x="650" y="492">E_Y</text>
<rect class="l" x="648" y="494" width="20" height="14"/><text class="t" x="650" y="505">E_X</text>
<rect class="l" x="648" y="507" width="25" height="14"/><text class="t" x="650" y="518">E_OP</text>
<rect class="box" x="640" y="519" width="28" height="30"/><text class="t" x="643" y="529">sign</text><text class="t" x="643" y="538">2032</text><text class="t" x="641" y="547">extend</text>
<polyline class="w" points="668,531 675,531"/>
<rect class="l" x="683" y="405" width="32" height="14"/><text class="t" x="685" y="416">M_Instr</text>
<polyline class="w" points="715,412 728,412"/><polyline class="w" points="728,398 728,420" style="stroke-width:5"/>
<polyline class="w" points="728,400 738,400 738,392 745,392"/><polyline class="w" points="728,405 745,405"/><polyline class="w" points="728,412 745,412"/><polyline class="w" points="728,418 738,418 738,425 745,425"/>
<rect class="l" x="745" y="385" width="20" height="14"/><text class="t" x="747" y="396">M_Z</text>
<rect class="l" x="745" y="398" width="20" height="14"/><text class="t" x="747" y="409">M_Y</text>
<rect class="l" x="745" y="411" width="20" height="14"/><text class="t" x="747" y="422">M_X</text>
<rect class="l" x="745" y="424" width="25" height="14"/><text class="t" x="747" y="435">M_OP</text>
<rect class="l" x="683" y="488" width="32" height="14"/><text class="t" x="685" y="499">W_Instr</text>
<polyline class="w" points="715,495 728,495"/><polyline class="w" points="728,480 728,503" style="stroke-width:5"/>
<polyline class="w" points="728,482 738,482 738,475 745,475"/><polyline class="w" points="728,488 745,488"/><polyline class="w" points="728,495 745,495"/><polyline class="w" points="728,500 738,500 738,508 745,508"/>
<rect class="l" x="745" y="468" width="20" height="14"/><text class="t" x="747" y="479">W_Z</text>
<rect class="l" x="745" y="481" width="20" height="14"/><text class="t" x="747" y="492">W_Y</text>
<rect class="l" x="745" y="494" width="20" height="14"/><text class="t" x="747" y="505">W_X</text>
<rect class="l" x="745" y="507" width="25" height="14"/><text class="t" x="747" y="518">W_OP</text>

<!-- data forwarding -->
<rect x="865" y="379" width="70" height="164" fill="#f7b6ef" stroke="#000" stroke-width="2"/>
<text x="872" y="448" style="font-size:7px">FORWARDING</text>
<rect class="l" x="837" y="379" width="24" height="13"/><text class="t" x="838" y="389">D_XZ</text>
<rect class="l" x="842" y="393" width="19" height="13"/><text class="t" x="843" y="403">D_Y</text>
<rect class="l" x="836" y="407" width="25" height="13"/><text class="t" x="837" y="417">E_OP</text>
<rect class="l" x="842" y="421" width="19" height="13"/><text class="t" x="843" y="431">E_X</text>
<rect class="l" x="842" y="435" width="19" height="13"/><text class="t" x="843" y="445">E_Y</text>
<rect class="l" x="833" y="449" width="28" height="13"/><text class="t" x="834" y="459">M_OP</text>
<rect class="l" x="838" y="463" width="23" height="13"/><text class="t" x="839" y="473">M_X</text>
<rect class="l" x="838" y="477" width="23" height="13"/><text class="t" x="839" y="487">M_Y</text>
<rect class="l" x="833" y="491" width="28" height="13"/><text class="t" x="834" y="501">W_OP</text>
<rect class="l" x="838" y="505" width="23" height="13"/><text class="t" x="839" y="515">W_X</text>
<rect class="l" x="838" y="519" width="23" height="13"/><text class="t" x="839" y="529">W_Y</text>
<polyline class="w" points="861,385 865,385"/><polyline class="w" points="861,399 865,399"/><polyline class="w" points="861,413 865,413"/><polyline class="w" points="861,427 865,427"/><polyline class="w" points="861,441 865,441"/><polyline class="w" points="861,455 865,455"/><polyline class="w" points="861,469 865,469"/><polyline class="w" points="861,483 865,483"/><polyline class="w" points="861,497 865,497"/><polyline class="w" points="861,511 865,511"/><polyline class="w" points="861,525 865,525"/>
<polyline class="w" points="935,413 942,413"/><rect class="l" x="942" y="406" width="30" height="14"/><text class="t" x="944" y="417">A_OUT</text>
<polyline class="w" points="972,413 985,413 985,420 992,420"/><rect class="l" x="992" y="413" width="15" height="14" rx="5"/><text class="t" x="994" y="424">11</text>
<polyline class="w" points="935,475 942,475"/><rect class="l" x="942" y="468" width="30" height="14"/><text class="t" x="944" y="479">B_OUT</text>
<polyline class="w" points="972,475 985,475 985,482 990,482"/><rect class="l" x="990" y="475" width="15" height="14" rx="5"/><text class="t" x="992" y="486">11</text>
<polyline class="w" points="872,543 872,557 852,557 852,582"/><polyline class="w" points="886,543 886,568 872,568 872,582"/><polyline class="w" points="896,543 896,580 887,580 887,602"/><polyline class="w" points="910,543 910,582"/><polyline class="w" points="925,543 925,552 935,552 935,560"/>
<rect class="l" x="842" y="582" width="20" height="14"/><text class="t" x="844" y="593">D_A</text>
<rect class="l" x="862" y="582" width="20" height="14"/><text class="t" x="864" y="593">D_B</text>
<rect class="l" x="893" y="582" width="40" height="14"/><text class="t" x="895" y="593">M_Result</text>
<rect class="l" x="867" y="602" width="38" height="14"/><text class="t" x="869" y="613">E_Result</text>
<rect class="l" x="920" y="560" width="40" height="14"/><text class="t" x="922" y="571">wb_result</text>
</svg>
</body></html>
